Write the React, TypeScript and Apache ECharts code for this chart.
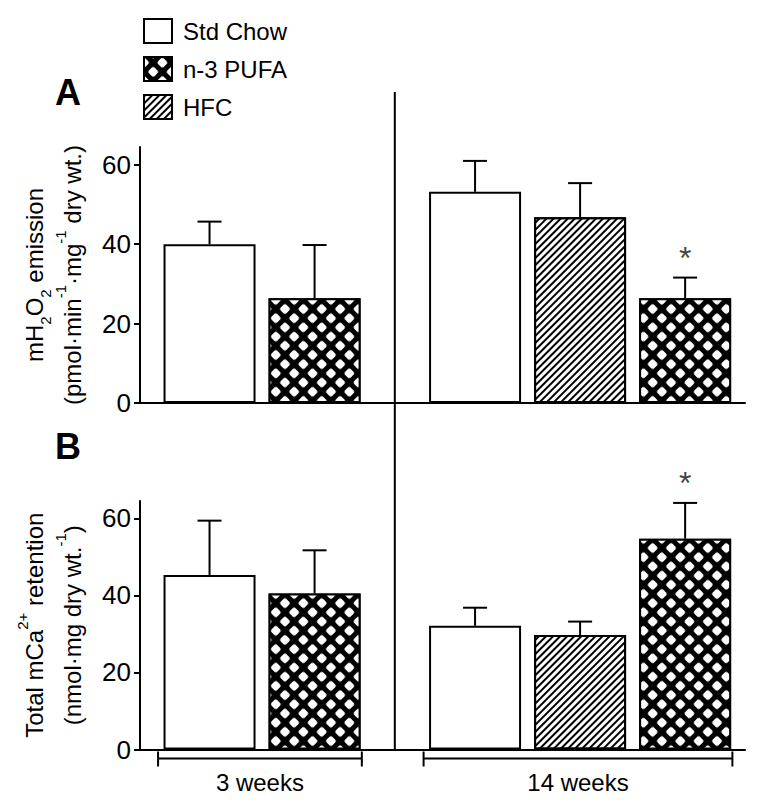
import React, { useEffect, useRef } from 'react';
import * as echarts from 'echarts';

const FONT = '"Liberation Sans", Arial, Helvetica, sans-serif';

// ---------- data ----------
const groups = ['3 weeks', '14 weeks'];
const diets = ['Std Chow', 'n-3 PUFA', 'HFC'];
// order of diet bars inside each group (indices into diets)
const groupDietOrder = [[0, 1], [0, 2, 1]];
const yTicks = [0, 20, 40, 60];

// Panel A: mH2O2 emission (pmol/min/mg dry wt.)
const emissionStdChow = [40.0, 53.2];
const emissionStdChowSem = [5.7, 7.8];
const emissionPufa = [26.4, 26.4];
const emissionPufaSem = [13.4, 5.2];
const emissionHfc = [null, 46.8];
const emissionHfcSem = [null, 8.6];
const emissionPufaSig = [false, true];

// Panel B: total mCa2+ retention (nmol/mg dry wt.)
const retentionStdChow = [45.3, 32.1];
const retentionStdChowSem = [14.1, 4.7];
const retentionPufa = [40.5, 54.7];
const retentionPufaSem = [11.2, 9.3];
const retentionHfc = [null, 29.7];
const retentionHfcSem = [null, 3.5];
const retentionPufaSig = [false, true];

const noSig = [false, false];

const panels = [
  {
    letter: 'A',
    means: [emissionStdChow, emissionPufa, emissionHfc],
    sems: [emissionStdChowSem, emissionPufaSem, emissionHfcSem],
    sig: [noSig, emissionPufaSig, noSig],
    name: 'mH{sub|2}O{sub|2} emission\n(pmol·min{sup|-1}·mg{sup|-1} dry wt.)',
  },
  {
    letter: 'B',
    means: [retentionStdChow, retentionPufa, retentionHfc],
    sems: [retentionStdChowSem, retentionPufaSem, retentionHfcSem],
    sig: [noSig, retentionPufaSig, noSig],
    name: 'Total mCa{sup|2+} retention\n(nmol·mg dry wt.{sup|-1})',
  },
];

// ---------- layout ----------
const groupStart = [0.662, 3.19];
const xMax = 5.76;
const yMax = 64.5;

const xPos = (g: number, d: number) => groupStart[g] + groupDietOrder[g].indexOf(d);

export default function App() {
  const ref = useRef<HTMLDivElement>(null);
  useEffect(() => {
    const chart = echarts.init(ref.current!, null, { renderer: 'svg' });

    const pufaDecal = {
      symbol: 'roundRect',
      color: '#fff',
      backgroundColor: null,
      dashArrayX: [8, 5],
      dashArrayY: [8, 5],
      rotation: Math.PI / 4,
      symbolSize: 1,
    };
    const hfcDecal = {
      symbol: 'rect',
      color: '#000',
      backgroundColor: null,
      dashArrayX: [10, 0],
      dashArrayY: [1.1, 2.2],
      rotation: -Math.PI / 4,
      symbolSize: 1,
    };
    const decals: any[] = [undefined, pufaDecal, hfcDecal];
    const fills = ['#fff', '#000', '#fff'];

    const grids = [
      { left: 140, right: 17, top: 147, bottom: 400 },
      { left: 140, right: 17, top: 501, bottom: 53.5 },
    ];

    const xAxes = grids.map((_, i) => ({
      type: 'value',
      gridIndex: i,
      min: 0,
      max: xMax,
      axisLine: { show: true, onZero: false, lineStyle: { color: '#000', width: 2 } },
      axisTick: { show: false },
      axisLabel: { show: false },
      splitLine: { show: false },
    }));

    const yAxes = panels.map((p, i) => ({
      type: 'value',
      gridIndex: i,
      min: 0,
      max: yMax,
      interval: 20,
      axisLine: { show: true, lineStyle: { color: '#000', width: 2 } },
      axisTick: { show: true, length: 6, customValues: yTicks, lineStyle: { color: '#000', width: 2 } },
      axisLabel: {
        customValues: yTicks,
        color: '#000',
        fontSize: 26,
        fontFamily: FONT,
        margin: 9,
      },
      splitLine: { show: false },
      name: p.name,
      nameLocation: 'middle',
      nameRotate: 90,
      nameGap: 48,
      nameTextStyle: {
        color: '#000',
        fontSize: 24,
        fontFamily: FONT,
        lineHeight: 38,
        rich: {
          sub: { fontSize: 15, fontFamily: FONT, color: '#000', lineHeight: 24, verticalAlign: 'bottom' },
          sup: { fontSize: 15, fontFamily: FONT, color: '#000', lineHeight: 24, verticalAlign: 'top' },
        },
      },
    }));

    const series: any[] = [];
    panels.forEach((p, pi) => {
      diets.forEach((dname, d) => {
        const data: any[] = [];
        groups.forEach((_, g) => {
          const v = p.means[d][g];
          if (v != null) data.push([xPos(g, d), v]);
        });
        series.push({
          name: dname,
          type: 'bar',
          xAxisIndex: pi,
          yAxisIndex: pi,
          barWidth: 92,
          barGap: '-100%',
          data,
          itemStyle: { color: fills[d], borderColor: '#000', borderWidth: 2, decal: decals[d] },
          emphasis: { disabled: true },
        });
      });
      const errData: any[] = [];
      diets.forEach((_, d) => {
        groups.forEach((__, g) => {
          const v = p.means[d][g];
          if (v != null) errData.push([xPos(g, d), v, p.sems[d][g], p.sig[d][g] ? 1 : 0]);
        });
      });
      series.push({
        type: 'custom',
        xAxisIndex: pi,
        yAxisIndex: pi,
        z: 5,
        data: errData,
        renderItem: (params: any, api: any) => {
          const x = api.value(0);
          const m = api.value(1);
          const e = api.value(2);
          const sig = api.value(3);
          const p0 = api.coord([x, m]);
          const p1 = api.coord([x, m + e]);
          const children: any[] = [
            { type: 'line', shape: { x1: p0[0], y1: p0[1], x2: p1[0], y2: p1[1] }, style: { stroke: '#000', lineWidth: 2 } },
            { type: 'line', shape: { x1: p1[0] - 12, y1: p1[1], x2: p1[0] + 12, y2: p1[1] }, style: { stroke: '#000', lineWidth: 2 } },
          ];
          if (sig) {
            children.push({
              type: 'text',
              style: {
                text: '*',
                x: p1[0],
                y: p1[1] - 20,
                align: 'center',
                verticalAlign: 'middle',
                fontSize: 32,
                fontFamily: FONT,
                fill: '#444',
              },
            });
          }
          return { type: 'group', children };
        },
      });
    });

    chart.setOption({
      animation: false,
      backgroundColor: '#fff',
      grid: grids,
      xAxis: xAxes,
      yAxis: yAxes,
      legend: {
        orient: 'vertical',
        left: 138,
        top: 13,
        icon: 'rect',
        itemWidth: 28,
        itemHeight: 24,
        itemGap: 12,
        selectedMode: false,
        data: diets,
        textStyle: { fontSize: 24, fontFamily: FONT, color: '#000', padding: [0, 0, 0, 6] },
      },
      series,
    });

    // annotations computed from axis coordinates
    const px = (gi: number, x: number, y: number) => chart.convertToPixel({ gridIndex: gi } as any, [x, y]) as number[];
    const graphics: any[] = [];
    const dividerX = (xPos(0, groupDietOrder[0][groupDietOrder[0].length - 1]) + groupStart[1]) / 2;
    const dTop = px(0, dividerX, yMax);
    const dBot = px(1, dividerX, 0);
    graphics.push({
      type: 'line',
      shape: { x1: dTop[0], y1: dTop[1] - 55, x2: dBot[0], y2: dBot[1] },
      style: { stroke: '#000', lineWidth: 2 },
    });
    groups.forEach((gname, g) => {
      const n = groupDietOrder[g].length;
      const l = px(1, groupStart[g] - 0.49, 0);
      const r = px(1, groupStart[g] + n - 1 + 0.45, 0);
      const yb = l[1] + 9;
      graphics.push({ type: 'line', shape: { x1: l[0], y1: yb, x2: r[0], y2: yb }, style: { stroke: '#000', lineWidth: 2 } });
      graphics.push({ type: 'line', shape: { x1: l[0], y1: yb - 7, x2: l[0], y2: yb + 8 }, style: { stroke: '#000', lineWidth: 2 } });
      graphics.push({ type: 'line', shape: { x1: r[0], y1: yb - 7, x2: r[0], y2: yb + 8 }, style: { stroke: '#000', lineWidth: 2 } });
      graphics.push({
        type: 'text',
        style: {
          text: gname,
          x: (l[0] + r[0]) / 2,
          y: yb + 24,
          align: 'center',
          verticalAlign: 'middle',
          fontSize: 24,
          fontFamily: FONT,
          fill: '#000',
        },
      });
    });
    panels.forEach((p, pi) => {
      const top = px(pi, 0, yMax);
      graphics.push({
        type: 'text',
        style: {
          text: p.letter,
          x: 68,
          y: top[1] - 55,
          align: 'center',
          verticalAlign: 'middle',
          fontSize: 36,
          fontWeight: 'bold',
          fontFamily: FONT,
          fill: '#000',
        },
      });
    });
    chart.setOption({ graphic: graphics });

    return () => chart.dispose();
  }, []);
  return (
    <div
      ref={ref}
      style={{ position: 'fixed', left: 0, top: 0, width: 762, height: 803, background: '#fff' }}
    />
  );
}
